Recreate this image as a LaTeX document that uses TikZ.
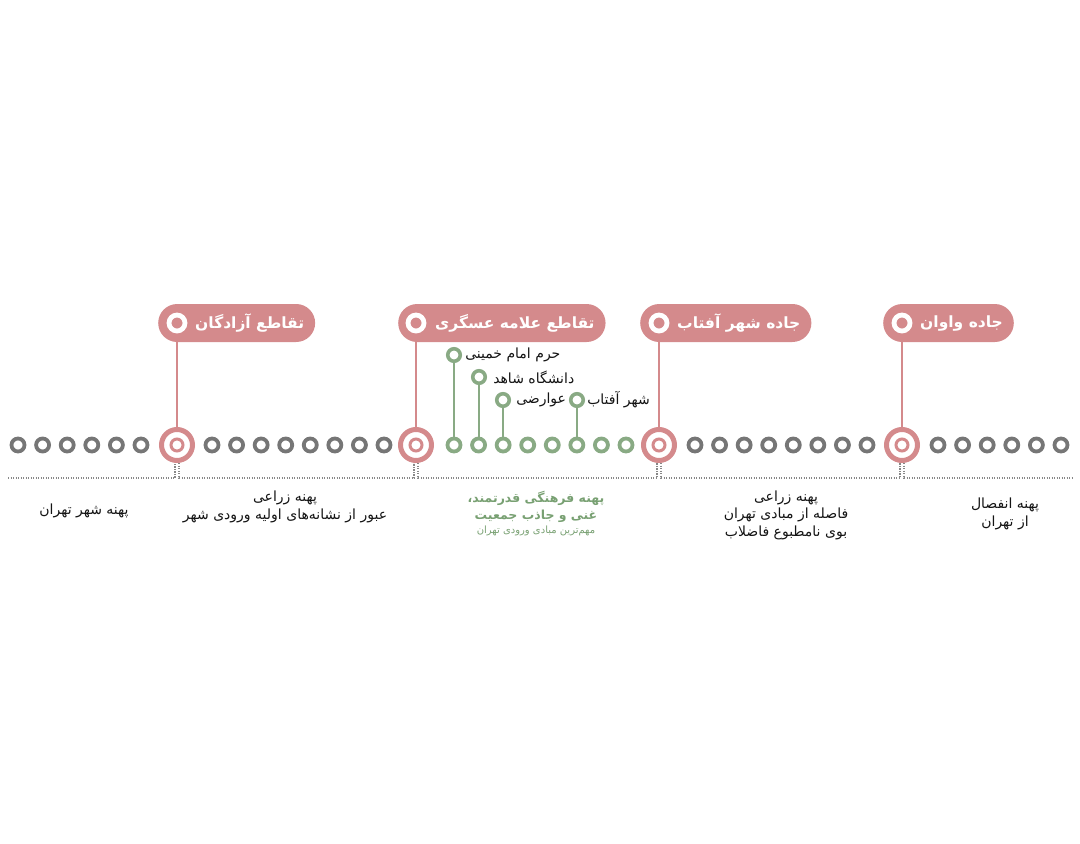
\documentclass[tikz,border=0pt]{standalone}
\usepackage{fontspec}
\newfontfamily\arabicfont[Script=Arabic]{DejaVu Sans}
\TeXXeTstate=1
\usetikzlibrary{positioning}
\definecolor{rosered}{RGB}{212,138,140}
\definecolor{sagegreen}{RGB}{137,170,132}
\definecolor{sagetext}{RGB}{120,160,114}
\definecolor{stonegray}{RGB}{118,118,118}
\definecolor{dotgray}{RGB}{135,135,135}
\definecolor{inkblack}{RGB}{20,20,20}
\tikzstyle{bead}=[
	circle,
	draw=stonegray,
	line width=3.8pt,
	minimum size=13pt,
	inner sep=0pt
]
\tikzstyle{greenbead}=[bead, draw=sagegreen]
\tikzstyle{labelbead}=[bead, draw=sagegreen, line width=3.6pt, minimum size=12.5pt]
\tikzstyle{junction}=[
	circle,
	draw=rosered,
	line width=5pt,
	minimum size=31pt,
	inner sep=0pt
]
\tikzstyle{pill}=[
	rectangle,
	rounded corners=19pt,
	fill=rosered,
	minimum height=38pt,
	inner xsep=11pt,
	text=white,
	font=\arabicfont\bfseries\fontsize{15.5}{18}\selectfont
]
\tikzstyle{pillicon}=[circle, draw=white, line width=4.8pt, fill=rosered, minimum size=16pt, inner sep=0pt]
\tikzstyle{stem}=[draw=rosered, line width=1.3pt]
\tikzstyle{greenstem}=[draw=sagegreen, line width=1.3pt]
\tikzstyle{dotline}=[draw=dotgray, line width=1.1pt, dash pattern=on 1.1pt off 1.4pt]
\tikzstyle{place}=[text=inkblack, font=\arabicfont\fontsize{14}{17}\selectfont, inner sep=0pt]
\tikzstyle{zone}=[text=inkblack, font=\arabicfont\fontsize{14}{17.5}\selectfont, align=center]

\begin{document}
\begin{tikzpicture}[x=1pt, y=-1pt]
\useasboundingbox (0,0) rectangle (1080,844);
\coordinate (base) at (0,478);

% beads along the road
\foreach \i in {1,...,6}
	\node [bead] (a\i) at ({18+24.6*(\i-1)},445) {};
\foreach \i in {1,...,8}
	\node [bead] (b\i) at ({212+24.57*(\i-1)},445) {};
\foreach \i in {1,...,8}
	\node [greenbead] (g\i) at ({454+24.57*(\i-1)},445) {};
\foreach \i in {1,...,8}
	\node [bead] (c\i) at ({695+24.57*(\i-1)},445) {};
\foreach \i in {1,...,6}
	\node [bead] (d\i) at ({938+24.6*(\i-1)},445) {};

% junctions
\node [junction] (Azadegan) at (177,445) {};
\node [junction] (Askari) at (416,445) {};
\node [junction] (Aftab) at (659,445) {};
\node [junction] (Vavan) at (902,445) {};
\foreach \j in {Azadegan,Askari,Aftab,Vavan}
	\draw [rosered, line width=3pt] (\j) circle (6pt);

% labels on top
\node [pill, anchor=west] (AzadeganTag) at (158,323) {\hspace{26pt}\beginR تقاطع آزادگان\endR};
\node [pill, anchor=west] (AskariTag) at (398,323) {\hspace{26pt}\beginR تقاطع علامه عسگری\endR};
\node [pill, anchor=west] (AftabTag) at (640,323) {\hspace{26pt}\beginR جاده شهر آفتاب\endR};
\node [pill, anchor=west] (VavanTag) at (883,323) {\hspace{26pt}\beginR جاده واوان\endR};
\foreach \j in {Azadegan,Askari,Aftab,Vavan}{
	\node [pillicon] at (\j |- \j Tag) {};
	\draw [stem] (\j Tag.south -| \j) -- (\j.north);
}

% places on the green stretch
\node [labelbead] (Haram) at (454,355) {};
\node [place, right=3pt of Haram] (HaramText) {\beginR حرم امام خمینی\endR};
\node [labelbead] (Shahed) at (479,377) {};
\node [place, right=6pt of Shahed] (ShahedText) {\beginR دانشگاه شاهد\endR};
\node [labelbead] (Avarezi) at (503,400) {};
\node [place, right=5pt of Avarezi] (AvareziText) {\beginR عوارضی\endR};
\node [labelbead] (ShahrAftab) at (577,400) {};
\node [place, right=2pt of ShahrAftab] (ShahrAftabText) {\beginR شهر آفتاب\endR};
\draw [greenstem] (Haram.south) -- (Haram.south |- g1.north);
\draw [greenstem] (Shahed.south) -- (Shahed.south |- g2.north);
\draw [greenstem] (Avarezi.south) -- (Avarezi.south |- g3.north);
\draw [greenstem] (ShahrAftab.south) -- (ShahrAftab.south |- g6.north);

% dotted zone line
\draw [dotline] (8,478) -- ([xshift=-2pt]Azadegan.south |- base) -- ([xshift=-2pt]Azadegan.south);
\draw [dotline] ([xshift=2pt]Azadegan.south) -- ([xshift=2pt]Azadegan.south |- base) -- ([xshift=-2pt]Askari.south |- base) -- ([xshift=-2pt]Askari.south);
\draw [dotline] ([xshift=2pt]Askari.south) -- ([xshift=2pt]Askari.south |- base) -- ([xshift=-2pt]Aftab.south |- base) -- ([xshift=-2pt]Aftab.south);
\draw [dotline] ([xshift=2pt]Aftab.south) -- ([xshift=2pt]Aftab.south |- base) -- ([xshift=-2pt]Vavan.south |- base) -- ([xshift=-2pt]Vavan.south);
\draw [dotline] ([xshift=2pt]Vavan.south) -- ([xshift=2pt]Vavan.south |- base) -- (1072,478);

% zones
\node [zone] (CityZone) at (84,511) {\beginR پهنه شهر تهران\endR};
\node [zone] (FarmZone) at (285,507) {\beginR پهنه زراعی\endR\\\beginR عبور از نشانه‌های اولیه ورودی شهر\endR};
\node [zone, text=sagetext, font=\arabicfont\bfseries\fontsize{12.5}{17}\selectfont] (CultureZone) at (536,507) {\beginR پهنه فرهنگی قدرتمند،\endR\\\beginR غنی و جاذب جمعیت\endR};
\node [zone, text=sagetext, font=\arabicfont\fontsize{10}{11}\selectfont, below=-4pt of CultureZone] (CultureNote) {\beginR مهم‌ترین مبادی ورودی تهران\endR};
\node [zone] (SewageZone) at (786,515) {\beginR پهنه زراعی\endR\\\beginR فاصله از مبادی تهران\endR\\\beginR بوی نامطبوع فاضلاب\endR};
\node [zone] (DetachZone) at (1005,514) {\beginR پهنه انفصال\endR\\\beginR از تهران\endR};
\end{tikzpicture}
\end{document}
